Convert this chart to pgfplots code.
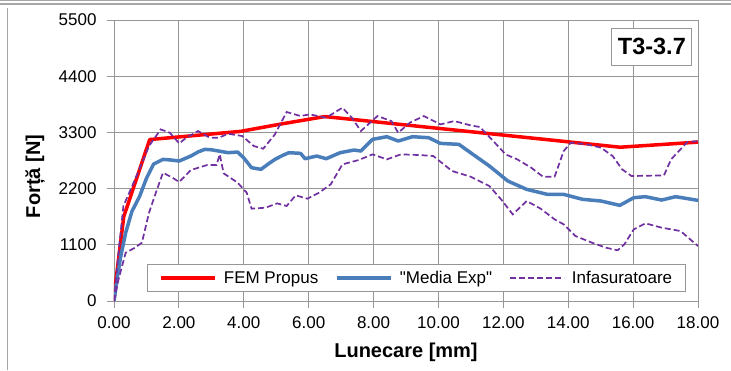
\documentclass[border=0pt]{standalone}
\usepackage{pgfplots}
\pgfplotsset{compat=1.18}
\usepackage{fontspec}
\setmainfont{Liberation Sans}[Ligatures=TeXOff]
\definecolor{femred}{RGB}{255,0,0}
\definecolor{medblue}{RGB}{74,126,187}
\definecolor{envpurple}{RGB}{112,48,160}
\definecolor{gridgray}{RGB}{150,150,150}
\begin{document}
\begin{tikzpicture}
\useasboundingbox (0pt,0pt) rectangle (731pt,370pt);
\fill[white] (0pt,0pt) rectangle (731pt,370pt);
\draw[gray!70, line width=1.2pt] (0pt,369.2pt) -- (731pt,369.2pt);
\draw[gray!70, line width=1.2pt] (0pt,366pt) -- (731pt,366pt);
\draw[gray!70, line width=1pt] (7pt,0pt) -- (7pt,362pt);
\begin{axis}[
  at={(114pt,69pt)}, anchor=south west, scale only axis,
  width=584pt, height=281pt,
  xmin=0, xmax=18, ymin=0, ymax=5500,
  xtick={0,2,...,18}, ytick={0,1100,2200,3300,4400,5500},
  scaled ticks=false,
  grid=major, grid style={gridgray, line width=0.8pt},
  axis line style={gridgray, line width=0.8pt},
  tick align=outside, major tick length=7pt,
  tick style={gridgray, line width=0.8pt},
  xtick pos=left, ytick pos=left,
  xticklabel style={yshift=-5pt, /pgf/number format/fixed, /pgf/number format/fixed zerofill, /pgf/number format/precision=2, /pgf/number format/assume math mode=true},
  yticklabel style={xshift=-7pt, /pgf/number format/1000 sep={}, /pgf/number format/assume math mode=true},
  tick label style={font=\fontsize{17}{20}\selectfont},
  xlabel={Lunecare [mm]},
  xlabel style={font=\bfseries\fontsize{20}{24}\selectfont, at={(axis description cs:0.5,-0.1815)}, anchor=center},
  ylabel={Forță [N]},
  ylabel style={font=\bfseries\fontsize{20}{24}\selectfont, at={(axis description cs:-0.135,0.443)}, anchor=center},
  legend image code/.code={\draw[#1] (0pt,0pt) -- (54pt,0pt);},
  legend columns=3,
  legend cell align=left,
  legend style={at={(axis description cs:0.0565,0.032)}, anchor=south west,
    draw=gridgray, line width=0.8pt, fill=white,
    font=\fontsize{17}{20}\selectfont,
    inner xsep=12pt, inner ysep=5.5pt,
    nodes={inner sep=1pt},
    /tikz/every odd column/.append style={column sep=6pt},
    /tikz/every even column/.append style={column sep=16pt}},
]
\addplot[femred, line width=3.5pt, line join=round] coordinates {
(0,0) (0.05,350) (0.3,1650) (1.1,3160) (3.9,3320) (5.2,3470) (6.5,3610) (15.6,3010) (18,3110)};
\addlegendentry{FEM Propus}
\addplot[medblue, line width=3.5pt, line join=round] coordinates {
(0,0) (0.1,450) (0.2,850) (0.36,1337) (0.55,1750) (0.79,2050) (1.0,2400) (1.22,2680) (1.51,2772) (1.75,2760) (2.01,2740) (2.37,2838) (2.6,2920) (2.80,2968) (3.0,2960) (3.23,2935) (3.52,2903) (3.81,2916) (4.0,2800) (4.24,2609) (4.53,2577) (4.75,2680) (4.96,2772) (5.2,2850) (5.39,2903) (5.75,2890) (5.89,2785) (6.25,2838) (6.54,2785) (6.97,2903) (7.40,2955) (7.61,2935) (7.97,3164) (8.41,3216) (8.76,3131) (9.20,3216) (9.70,3196) (10.06,3085) (10.63,3066) (10.99,2903) (11.57,2642) (12.14,2348) (12.72,2185) (13.36,2087) (13.86,2087) (14.44,1990) (15.01,1957) (15.59,1872) (16.02,2022) (16.38,2042) (16.88,1976) (17.31,2042) (18,1970)};
\addlegendentry{"Media Exp"}
\addplot[envpurple, line width=1.7pt, dash pattern=on 6pt off 3pt] coordinates {
(0,0) (0.14,946) (0.29,1859) (0.65,2381) (1.08,3033) (1.44,3359) (1.72,3294) (2.01,3085) (2.23,3196) (2.59,3327) (2.95,3196) (3.23,3196) (3.52,3274) (3.95,3229) (4.31,3033) (4.60,2981) (4.96,3261) (5.32,3699) (5.75,3620) (6.03,3653) (6.54,3588) (7.04,3783) (7.33,3588) (7.61,3327) (8.12,3620) (8.55,3522) (8.76,3294) (9.12,3490) (9.55,3620) (10.06,3457) (10.49,3522) (10.99,3438) (11.28,3405) (11.64,3164) (12.07,2870) (12.43,2772) (12.86,2609) (13.22,2433) (13.58,2433) (13.86,2935) (14.08,3098) (14.58,3066) (15.01,3001) (15.37,2838) (15.66,2577) (15.95,2446) (16.95,2459) (17.17,2772) (17.67,3111) (18,3131)};
\addlegendentry{Infasuratoare}
\addplot[envpurple, line width=1.7pt, dash pattern=on 6pt off 3pt, forget plot] coordinates {
(0,0) (0.14,424) (0.36,946) (0.65,1044) (0.86,1142) (1.08,1729) (1.29,2120) (1.51,2511) (1.80,2414) (2.01,2329) (2.37,2564) (2.87,2661) (3.16,2661) (3.26,2870) (3.38,2498) (3.81,2316) (4.09,2120) (4.24,1807) (4.67,1826) (5.03,1911) (5.32,1859) (5.60,2068) (5.96,2003) (6.32,2120) (6.68,2283) (7.04,2674) (7.54,2759) (7.97,2870) (8.41,2772) (8.84,2870) (9.41,2857) (9.84,2838) (10.42,2544) (10.99,2433) (11.57,2250) (11.93,1990) (12.29,1696) (12.72,1957) (13.15,1807) (13.58,1598) (13.86,1500) (14.22,1272) (14.73,1142) (15.16,1044) (15.52,992) (15.73,1109) (16.02,1402) (16.38,1520) (16.88,1435) (17.46,1370) (18,1076)};
\node[draw=gridgray, line width=0.8pt, fill=white, minimum width=80pt, minimum height=37pt, inner sep=0pt,
  font=\bfseries\fontsize{23.5}{27}\selectfont] at (axis description cs:0.921,0.906) {T3-3.7};
\end{axis}
\end{tikzpicture}
\end{document}
